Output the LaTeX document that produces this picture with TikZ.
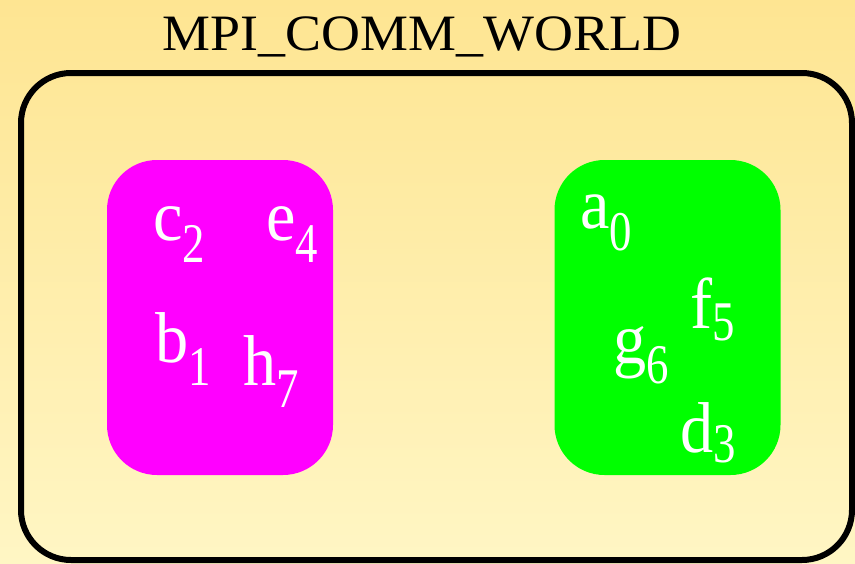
\documentclass[tikz,border=0pt]{standalone}
\usepackage{fontspec}
\setmainfont{Liberation Serif}
\definecolor{bgtop}{RGB}{254,229,146}
\definecolor{bgbottom}{RGB}{255,246,196}
\definecolor{grpmagenta}{RGB}{255,0,255}
\definecolor{grpgreen}{RGB}{0,255,0}
\newcommand{\rank}[3]{\scalebox{0.92}[1]{#1}\raisebox{-#3pt}{\scalebox{0.8}[1]{\fontsize{56}{56}\selectfont #2}}}
\tikzset{
    group/.style={
        rounded corners=50pt,
        minimum width=226pt,
        minimum height=315pt,
        inner sep=0pt
    },
    proc/.style={
        text=white,
        anchor=base west,
        inner sep=0pt,
        font=\fontsize{72}{72}\selectfont
    }
}
\begin{document}
\begin{tikzpicture}[x=1pt,y=-1pt]
\useasboundingbox (0,0) rectangle (855,563);
\shade[top color=bgtop, bottom color=bgbottom] (0,0) rectangle (855,563);

\node[
    anchor=base,
    inner sep=0pt,
    font=\fontsize{51}{51}\selectfont
] (title) at (422,50) {\scalebox{1.057}[1]{MPI\_COMM\_WORLD}};

\draw[line width=6pt, rounded corners=50pt] (21,73) rectangle (852,560);

\node[group, fill=grpmagenta] (left) at (220,317.5) {};
\node[group, fill=grpgreen] (right) at (667.5,317.5) {};

% ranks in the magenta group
\node[proc] (c) at (153,240) {\rank{c}{2}{22}};
\node[proc] (e) at (266,240) {\rank{e}{4}{22}};
\node[proc] (b) at (155,362) {\rank{b}{1}{23}};
\node[proc] (h) at (243,385) {\rank{h}{7}{22}};

% ranks in the green group
\node[proc] (a) at (580,228) {\rank{a}{0}{22}};
\node[proc] (f) at (690,328) {\rank{f}{5}{12}};
\node[proc] (g) at (613,363) {\rank{g}{6}{20}};
\node[proc] (d) at (680,452) {\rank{d}{3}{10}};
\end{tikzpicture}
\end{document}
